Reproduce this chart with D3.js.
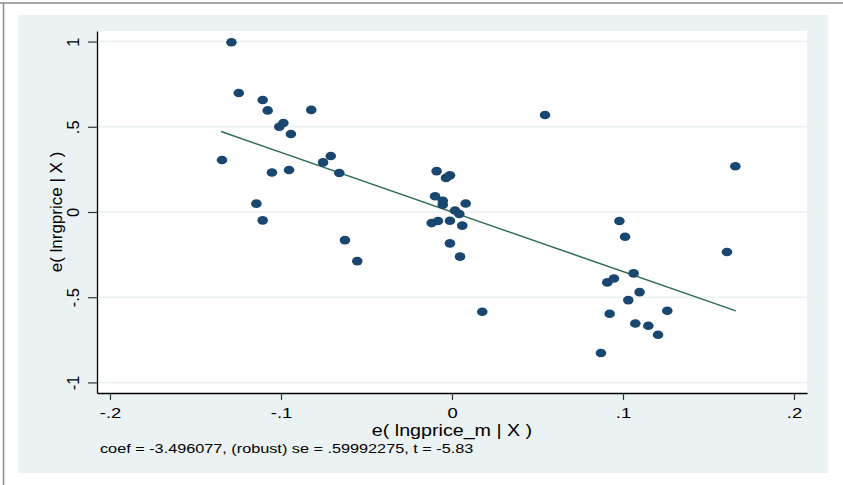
<!DOCTYPE html>
<html>
<head>
<meta charset="utf-8">
<script src="https://cdn.jsdelivr.net/npm/d3@7/dist/d3.min.js"></script>
<style>
  html, body { margin: 0; padding: 0; background: #ffffff; }
  svg { display: block; }
  text { font-family: "Liberation Sans", Arial, Helvetica, sans-serif; fill: #000; }
</style>
</head>
<body>
<svg id="chart" width="843" height="485"></svg>
<script>
// ---- data ----
const xResid = [
  -0.129, -0.1247, -0.1107, -0.1078, -0.101, -0.0986, -0.0942, -0.1345, -0.1053, -0.0953,
  -0.1144, -0.1107, -0.0823, 0.0544, -0.0709, -0.0754, -0.0659, -0.0090, -0.0035, -0.0012,
  -0.0099, -0.0054, -0.0054, 0.0080, 0.0018, 0.0043, -0.0119, -0.0082, -0.0012, 0.0060,
  -0.0626, -0.0554, -0.0012, 0.0047, 0.0177, 0.1657, 0.0979, 0.1012, 0.1608, 0.1062,
  0.0908, 0.0947, 0.1097, 0.1031, 0.0922, 0.1259, 0.1072, 0.1148, 0.1205, 0.0871
];
const yResid = [
  0.996, 0.698, 0.657, 0.596, 0.500, 0.522, 0.458, 0.305, 0.232, 0.246,
  0.049, -0.049, 0.599, 0.569, 0.329, 0.291, 0.229, 0.240, 0.200, 0.215,
  0.092, 0.066, 0.043, 0.050, 0.009, -0.012, -0.065, -0.053, -0.051, -0.080,
  -0.165, -0.288, -0.184, -0.262, -0.585, 0.268, -0.053, -0.145, -0.235, -0.360,
  -0.413, -0.390, -0.470, -0.517, -0.597, -0.579, -0.654, -0.667, -0.720, -0.827
];
const coef = -3.496077;
const fitX = [-0.135, 0.166];
const xTicks = [-0.2, -0.1, 0, 0.1, 0.2];
const xTickLabels = ["-.2", "-.1", "0", ".1", ".2"];
const yTicks = [-1, -0.5, 0, 0.5, 1];
const yTickLabels = ["-1", "-.5", "0", ".5", "1"];
const xTitle = "e( lngprice_m | X )";
const yTitle = "e( lnrgprice | X )";
const note = "coef = -3.496077, (robust) se = .59992275, t = -5.83";

// ---- layout ----
const svg = d3.select("#chart");
const W = 843, H = 485;
const plot = { left: 97, right: 807, top: 31, bottom: 393 };
const panelColor = "#EAF2F3";
const markerColor = "#1A476F";
const lineColor = "#2E6B57";

// outer frame (top and left edges)
svg.append("line").attr("x1", 0).attr("x2", W).attr("y1", 3).attr("y2", 3)
  .attr("stroke", "#8a8a8a").attr("stroke-width", 1.5);
svg.append("line").attr("x1", 3.5).attr("x2", 3.5).attr("y1", 3).attr("y2", H)
  .attr("stroke", "#8a8a8a").attr("stroke-width", 1.5);

// graph region panel
svg.append("rect").attr("x", 18).attr("y", 15).attr("width", 810).attr("height", 458)
  .attr("fill", panelColor);
// plot region
svg.append("rect").attr("x", plot.left).attr("y", plot.top)
  .attr("width", plot.right - plot.left).attr("height", plot.bottom - plot.top)
  .attr("fill", "#ffffff");

const x = d3.scaleLinear().domain([-0.2076, 0.2076]).range([plot.left, plot.right]);
const y = d3.scaleLinear().domain([-1.062, 1.062]).range([plot.bottom, plot.top]);

// gridlines
svg.append("g").selectAll("line").data(yTicks).join("line")
  .attr("x1", plot.left).attr("x2", plot.right)
  .attr("y1", d => y(d)).attr("y2", d => y(d))
  .attr("stroke", panelColor).attr("stroke-width", 1.6);

// fit line
svg.append("line")
  .attr("x1", x(fitX[0])).attr("y1", y(coef * fitX[0]))
  .attr("x2", x(fitX[1])).attr("y2", y(coef * fitX[1]))
  .attr("stroke", lineColor).attr("stroke-width", 1.5);

// points
const pts = xResid.map((v, i) => ({ x: v, y: yResid[i] }));
svg.append("g").selectAll("ellipse").data(pts).join("ellipse")
  .attr("cx", d => x(d.x)).attr("cy", d => y(d.y))
  .attr("rx", 5.3).attr("ry", 4.3)
  .attr("fill", markerColor);

// axes
const xAxis = d3.axisBottom(x).tickValues(xTicks).tickSize(7).tickSizeOuter(0)
  .tickFormat((d, i) => xTickLabels[i]);
const gx = svg.append("g").attr("transform", `translate(0,${plot.bottom})`).call(xAxis);
gx.select(".domain").attr("stroke", "#000").attr("stroke-width", 1.3);
gx.selectAll(".tick line").attr("stroke", "#333").attr("stroke-width", 1.2);
gx.selectAll(".tick text").attr("y", 0).attr("dy", null)
  .attr("font-size", 14.5).attr("fill", "#000")
  .attr("transform", "translate(0,25) scale(1.27,1)");

const yAxis = d3.axisLeft(y).tickValues(yTicks).tickSize(9).tickSizeOuter(0)
  .tickFormat((d, i) => yTickLabels[i]);
const gy = svg.append("g").attr("transform", `translate(${plot.left},0)`).call(yAxis);
gy.select(".domain").attr("stroke", "#000").attr("stroke-width", 1.3);
gy.selectAll(".tick line").attr("stroke", "#333").attr("stroke-width", 1.2);
gy.selectAll(".tick text").attr("x", 0).attr("y", 0).attr("dy", null)
  .attr("text-anchor", "middle").attr("font-size", 16.5).attr("fill", "#000")
  .attr("transform", "translate(-18,0) rotate(-90)");

// axis titles
svg.append("text").attr("text-anchor", "middle").attr("font-size", 16)
  .attr("transform", `translate(${(plot.left + plot.right) / 2},435.5) scale(1.23,1)`)
  .text(xTitle);
svg.append("text").attr("text-anchor", "middle").attr("font-size", 17)
  .attr("transform", `translate(61.5,${(plot.top + plot.bottom) / 2}) rotate(-90)`)
  .text(yTitle);

// note
svg.append("text").attr("font-size", 13)
  .attr("transform", "translate(100,452.5) scale(1.25,1)")
  .text(note);
</script>
</body>
</html>
